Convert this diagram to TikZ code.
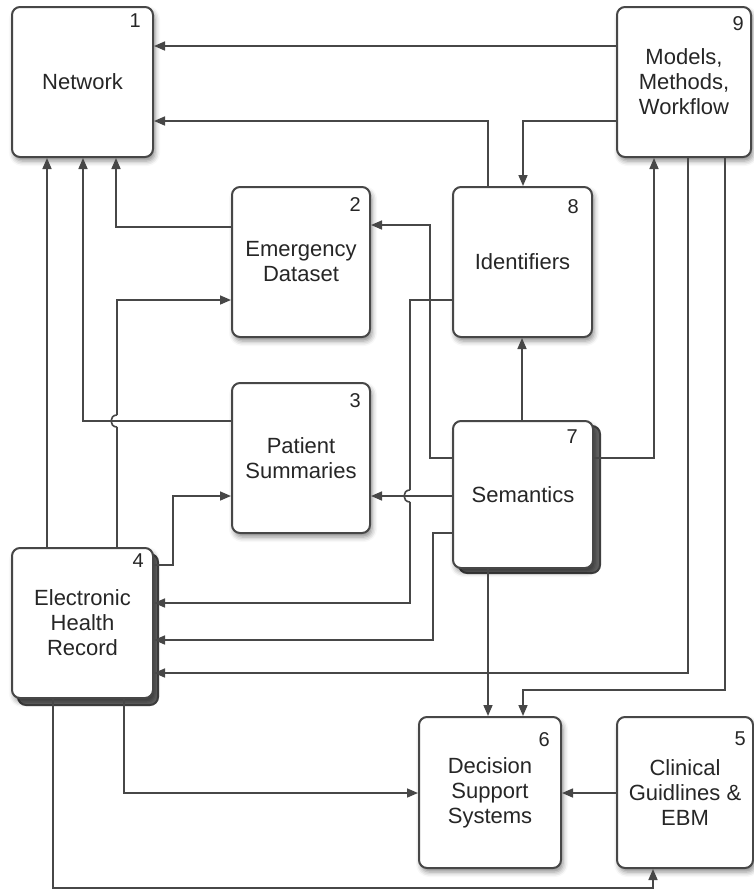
\documentclass[tikz,border=0pt]{standalone}
\usepackage{fontspec}
\setmainfont{Liberation Sans}
\usetikzlibrary{arrows.meta,shadows.blur}
\tikzset{
  box/.style={draw=black!72, line width=2pt, fill=white, rounded corners=8pt,
    align=center, font=\fontsize{22}{25}\selectfont, text=black!85, inner sep=0pt,
    blur shadow={shadow xshift=2pt, shadow yshift=-4pt, shadow blur radius=5pt, shadow opacity=45}},
  stackbox/.style={draw=black!75, line width=2pt, fill=black!60, rounded corners=8pt},
  num/.style={anchor=north east, font=\fontsize{20}{22}\selectfont, text=black!85, inner sep=0pt},
  wire/.style={draw=black!72, line width=1.6pt},
  conn/.style={wire, -{Triangle[length=11pt,width=9pt]}},
}
\begin{document}
\begin{tikzpicture}[x=1pt,y=-1pt]
\useasboundingbox (0,0) rectangle (753,892);
% stacked backs
\draw[stackbox] (18,554) rectangle (158,705);
\draw[stackbox] (459,426) rectangle (600,573);
% boxes
\node[box, minimum width=141pt, minimum height=150pt] (n1) at (82.5,82) {Network};
\node[box, minimum width=134pt, minimum height=150pt] (n9) at (684,82) {Models,\\Methods,\\Workflow};
\node[box, minimum width=138pt, minimum height=150pt] (n2) at (301,262) {Emergency\\Dataset};
\node[box, minimum width=139pt, minimum height=150pt] (n8) at (522.5,262) {Identifiers};
\node[box, minimum width=138pt, minimum height=150pt] (n3) at (301,458) {Patient\\Summaries};
\node[box, minimum width=140pt, minimum height=147pt] (n7) at (523,494.5) {Semantics};
\node[box, minimum width=141pt, minimum height=150pt] (n4) at (82.5,623) {Electronic\\Health\\Record};
\node[box, minimum width=142pt, minimum height=151pt] (n6) at (490,792.5) {Decision\\Support\\Systems};
\node[box, minimum width=136pt, minimum height=151pt] (n5) at (685,792.5) {Clinical\\Guidlines \&\\EBM};
% numbers
\node[num] (k1) at ([xshift=-13pt,yshift=-8pt]n1.north east) {1};
\node[num] (k9) at ([xshift=-8pt,yshift=-10pt]n9.north east) {9};
\node[num] (k2) at ([xshift=-10pt,yshift=-11pt]n2.north east) {2};
\node[num] (k8) at ([xshift=-14pt,yshift=-13pt]n8.north east) {8};
\node[num] (k3) at ([xshift=-10pt,yshift=-11pt]n3.north east) {3};
\node[num] (k7) at ([xshift=-16pt,yshift=-10pt]n7.north east) {7};
\node[num] (k4) at ([xshift=-10pt,yshift=-7pt]n4.north east) {4};
\node[num] (k6) at ([xshift=-12pt,yshift=-16pt]n6.north east) {6};
\node[num] (k5) at ([xshift=-8pt,yshift=-16pt]n5.north east) {5};
% hop points
\coordinate (h1a) at (117,427);
\coordinate (h1b) at (117,415);
\coordinate (h2a) at (410,490);
\coordinate (h2b) at (410,502);
% connectors
\draw[conn] (n9.west |- 0,46) -- (n1.east |- 0,46);
\draw[conn] (n8.north -| 488,0) |- (n1.east |- 0,121);
\draw[conn] (n9.west |- 0,121) -| (n8.north -| 523,0);
\draw[conn] (n2.west |- 0,227) -| (n1.south -| 116,0);
\draw[conn] (n3.west |- 0,421) -| (n1.south -| 83,0);
\draw[conn] (n4.north -| 47,0) -- (n1.south -| 47,0);
\draw[wire] (n4.north -| 117,0) -- (h1a);
\draw[wire] (h1a) .. controls (109,427) and (109,415) .. (h1b);
\draw[conn] (h1b) -- (117,300) -- (n2.west |- 0,300);
\draw[conn] (n4.east |- 0,565) -| (173,496) -- (n3.west |- 0,496);
\draw[conn] (n7.west |- 0,458) -| (430,225) -- (n2.east |- 0,225);
\draw[conn] (n7.west |- 0,496) -- (n3.east |- 0,496);
\draw[wire] (n8.west |- 0,300) -- (410,300) -- (h2a);
\draw[wire] (h2a) .. controls (402,490) and (402,502) .. (h2b);
\draw[conn] (h2b) -- (410,603) -- (n4.east |- 0,603);
\draw[conn] (n7.west |- 0,533) -| (433,640) -- (n4.east |- 0,640);
\draw[conn] (n9.south -| 688,0) |- (n4.east |- 0,673);
\draw[conn] (n9.south -| 725,0) |- (523,690) -- (n6.north -| 523,0);
\draw[conn] (n7.east |- 0,458) -| (n9.south -| 654,0);
\draw[conn] (n7.north -| 522,0) -- (n8.south -| 522,0);
\draw[conn] (n7.south -| 488,0) -- (n6.north -| 488,0);
\draw[conn] (n4.south -| 124,0) |- (n6.west |- 0,793);
\draw[conn] (n5.west |- 0,793) -- (n6.east |- 0,793);
\draw[conn] (n4.south -| 53,0) |- (653,888) -- (n5.south -| 653,0);
\end{tikzpicture}
\end{document}
